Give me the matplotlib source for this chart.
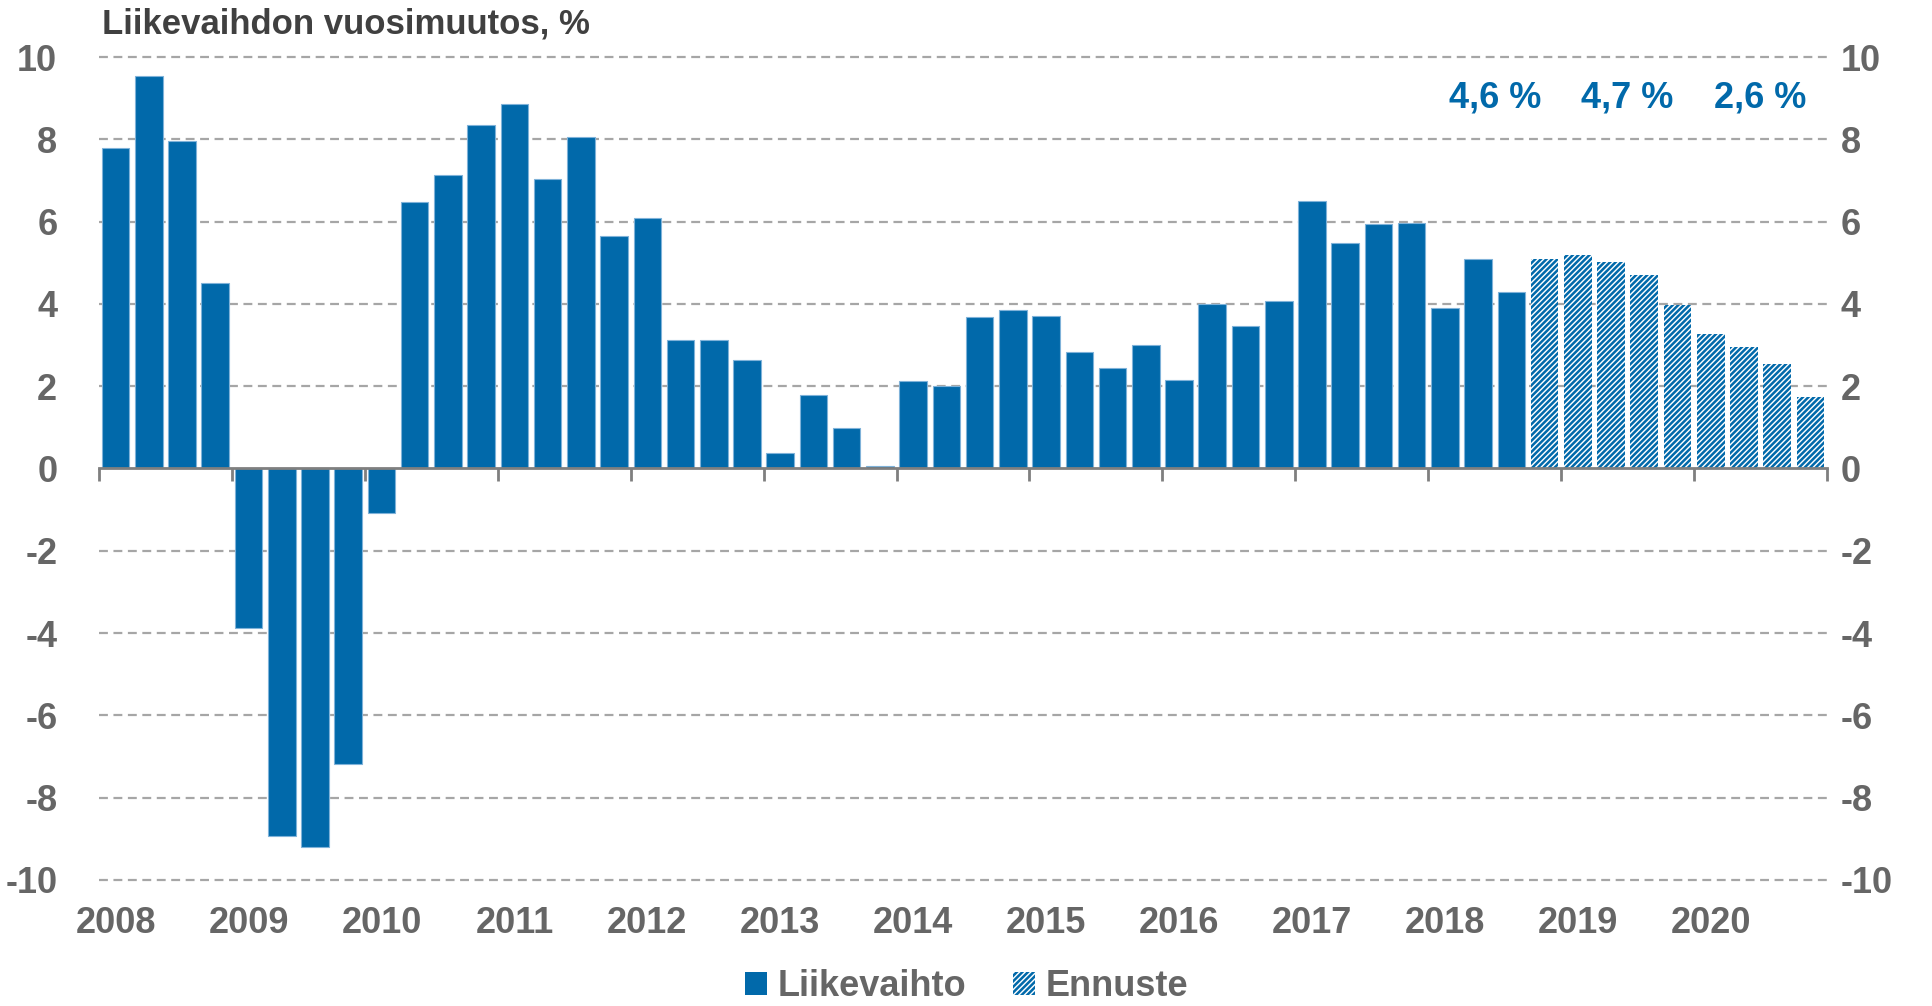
import matplotlib
matplotlib.use("Agg")
import matplotlib.pyplot as plt
from matplotlib.patches import Patch
import numpy as np

plt.rcParams['font.family'] = ['Liberation Sans', 'DejaVu Sans']
plt.rcParams['hatch.linewidth'] = 1.8

# ---- data ----
years = [str(y) for y in range(2008, 2021)]
actual = [7.8, 9.55, 7.97, 4.5,
          -3.88, -8.93, -9.19, -7.19,
          -1.07, 6.48, 7.13, 8.36,
          8.87, 7.04, 8.06, 5.64,
          6.09, 3.13, 3.13, 2.64,
          0.38, 1.79, 0.98, 0.06,
          2.12, 2.0, 3.67, 3.85,
          3.7, 2.83, 2.44, 2.99,
          2.14, 4.0, 3.46, 4.07,
          6.5, 5.47, 5.95, 5.97,
          3.91, 5.08, 4.3]
forecast = [5.1, 5.19, 5.01, 4.71, 3.97, 3.27, 2.96, 2.53, 1.73]
annual_labels = ["4,6 %", "4,7 %", "2,6 %"]
annual_years = ["2018", "2019", "2020"]
title = "Liikevaihdon vuosimuutos, %"
legend_labels = ["Liikevaihto", "Ennuste"]
yticks = list(range(-10, 11, 2))

BLUE = "#0169AA"
GREY = "#666666"
GRID = "#A6A6A6"

fig = plt.figure(figsize=(19.33, 10.06), dpi=100)
ax = fig.add_axes([0.0512, 0.1212, 0.894, 0.8262])

n_act = len(actual)
x_act = np.arange(n_act)
x_fc = np.arange(n_act, n_act + len(forecast))
n_total = n_act + len(forecast)

ax.bar(x_act, actual, width=0.83, color=BLUE, edgecolor="#7FB2D9", linewidth=0.8, zorder=3)
ax.bar(x_fc, forecast, width=0.83, color="white", edgecolor=BLUE, linewidth=0, hatch="//////", zorder=3)

ax.set_xlim(-0.5, n_total - 0.5)
ax.set_ylim(-10.1, 10.1)

# gridlines
for yv in yticks:
    if yv != 0:
        ax.axhline(yv, color=GRID, linestyle=(0, (4, 2.5)), linewidth=1.6, zorder=1)

for s in ['top', 'right', 'left']:
    ax.spines[s].set_visible(False)
ax.spines['bottom'].set_position(('data', 0))
ax.spines['bottom'].set_color("#7F7F7F")
ax.spines['bottom'].set_linewidth(2)
ax.spines['bottom'].set_zorder(4)

boundaries = np.arange(-0.5, n_total, 4)
ax.set_xticks(boundaries)
ax.set_xticklabels([])
ax.tick_params(axis='x', length=9, width=2, color="#7F7F7F", direction='out')

# year labels under first quarter
sec = ax.secondary_xaxis('bottom')
sec.set_xticks(np.arange(0, n_total, 4))
sec.set_xticklabels(years)
sec.tick_params(length=0, pad=16, labelsize=26, labelcolor=GREY)
for lab in sec.get_xticklabels():
    lab.set_fontweight('bold')
sec.spines['bottom'].set_visible(False)

# y ticks left
ax.set_yticks(yticks)
ax.set_yticklabels([str(v) for v in yticks])
ax.tick_params(axis='y', length=0, pad=30, labelsize=26, labelcolor=GREY)
for lab in ax.get_yticklabels():
    lab.set_fontweight('bold')

# y ticks right
ax2 = ax.twinx()
ax2.set_ylim(ax.get_ylim())
ax2.set_yticks(yticks)
ax2.set_yticklabels([str(v) for v in yticks])
ax2.tick_params(axis='y', length=0, pad=10, labelsize=26, labelcolor=GREY)
for lab in ax2.get_yticklabels():
    lab.set_fontweight('bold')
for s in ax2.spines.values():
    s.set_visible(False)

# annual averages
for lab, yr in zip(annual_labels, annual_years):
    i = years.index(yr)
    xc = i * 4 + 1.5
    ax.text(xc, 9.0, lab, ha='center', va='center', fontsize=26, fontweight='bold', color=BLUE)

fig.text(102 / 1933, 1 - 24 / 1006, title, ha='left', va='center', fontsize=25,
         fontweight='bold', color="#404040")

handles = [Patch(facecolor=BLUE, edgecolor=BLUE, linewidth=0),
           Patch(facecolor='white', edgecolor=BLUE, linewidth=0, hatch='//////')]
leg = fig.legend(handles, legend_labels, loc='center', bbox_to_anchor=(0.5, 19 / 1006), ncol=2,
                 frameon=False, handlelength=0.6, handleheight=0.6, handletextpad=0.3,
                 columnspacing=1.3, borderpad=0.1, prop={'size': 26, 'weight': 'bold'})
for t in leg.get_texts():
    t.set_color(GREY)

fig.savefig("out.png", dpi=100)
